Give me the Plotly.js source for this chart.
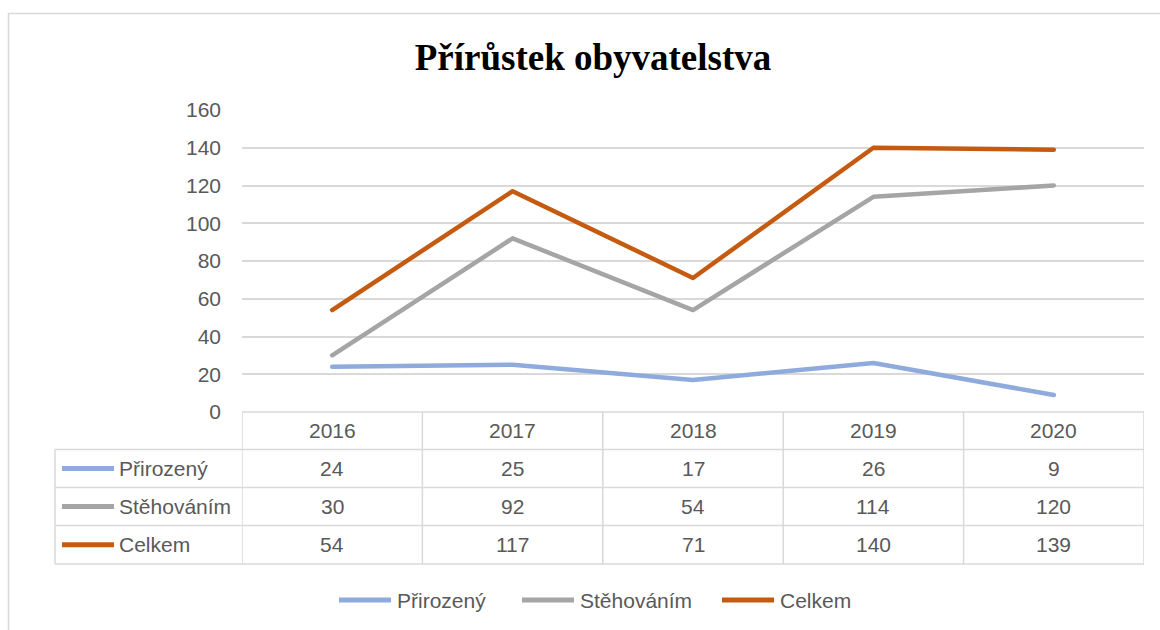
<!DOCTYPE html>
<html>
<head>
<meta charset="utf-8">
<script src="https://cdn.plot.ly/plotly-3.0.1.min.js"></script>
<style>
html,body{margin:0;padding:0;background:#fff;}
#chart{width:1160px;height:630px;}
#chart .scatterlayer .js-line{stroke-linecap:round !important;stroke-linejoin:round !important;}
</style>
</head>
<body>
<div id="chart"></div>
<script>
const years = ["2016", "2017", "2018", "2019", "2020"];
const seriesNames = ["Přirozený", "Stěhováním", "Celkem"];
const prirozeny = [24, 25, 17, 26, 9];
const stehovanim = [30, 92, 54, 114, 120];
const celkem = [54, 117, 71, 140, 139];
const yTicks = [0, 20, 40, 60, 80, 100, 120, 140, 160];
const colors = ["#8faadc", "#a5a5a5", "#c55a11"];
const seriesValues = [prirozeny, stehovanim, celkem];

// layout geometry (pixels)
const W = 1160, H = 630;
const L = 242, R = 1144, T = 110, B = 412;
const px2x = p => (p - L) / (R - L);
const py2y = p => (B - p) / (B - T);
const rowEdges = [412, 449.5, 487.5, 525.5, 564];
const tableLeft = 55;
const legendKeyX = [339, 522, 722];
const legendY = 600;
const font = "Liberation Sans, Arial, sans-serif";
const textColor = "#595959";
const gridColor = "#d9d9d9";

const traces = seriesValues.map((vals, i) => ({
  type: "scatter",
  mode: "lines",
  name: seriesNames[i],
  x: years,
  y: vals,
  line: {color: colors[i], width: 4.5},
  hoverinfo: "x+y+name"
}));

const shapes = [];
const annotations = [];

// outer chart frame
shapes.push({type: "rect", xref: "paper", yref: "paper",
  x0: px2x(8.5), x1: px2x(1175), y0: py2y(13.5), y1: py2y(645),
  line: {color: gridColor, width: 1.5}, fillcolor: "rgba(0,0,0,0)"});

// data table horizontal lines
rowEdges.forEach((e, i) => {
  shapes.push({type: "line", xref: "paper", yref: "paper",
    x0: px2x(i === 0 ? L : tableLeft), x1: 1, y0: py2y(e), y1: py2y(e),
    line: {color: gridColor, width: 1.5}});
});
// vertical lines at category boundaries
for (let k = 0; k <= years.length; k++) {
  shapes.push({type: "line", xref: "x", yref: "paper",
    x0: k - 0.5, x1: k - 0.5, y0: py2y(rowEdges[0]), y1: py2y(rowEdges[rowEdges.length - 1]),
    line: {color: gridColor, width: 1.5}});
}
// left column border
shapes.push({type: "line", xref: "paper", yref: "paper",
  x0: px2x(tableLeft), x1: px2x(tableLeft), y0: py2y(rowEdges[1]), y1: py2y(rowEdges[rowEdges.length - 1]),
  line: {color: gridColor, width: 1.5}});

// header row
years.forEach((yr, k) => {
  annotations.push({xref: "x", yref: "paper", x: k, y: py2y((rowEdges[0] + rowEdges[1]) / 2),
    text: yr, showarrow: false, xanchor: "center", yanchor: "middle",
    font: {family: font, size: 21, color: textColor}});
});
// series rows
seriesValues.forEach((vals, i) => {
  const yc = py2y((rowEdges[i + 1] + rowEdges[i + 2]) / 2);
  shapes.push({type: "line", xref: "paper", yref: "paper",
    x0: px2x(62), x1: px2x(114), y0: yc, y1: yc,
    line: {color: colors[i], width: 5}});
  annotations.push({xref: "paper", yref: "paper", x: px2x(117), y: yc,
    text: seriesNames[i], showarrow: false, xanchor: "left", yanchor: "middle",
    font: {family: font, size: 21, color: textColor}});
  vals.forEach((v, k) => {
    annotations.push({xref: "x", yref: "paper", x: k, y: yc,
      text: String(v), showarrow: false, xanchor: "center", yanchor: "middle",
      font: {family: font, size: 21, color: textColor}});
  });
});

// bottom legend
seriesNames.forEach((name, i) => {
  const yc = py2y(legendY);
  shapes.push({type: "line", xref: "paper", yref: "paper",
    x0: px2x(legendKeyX[i]), x1: px2x(legendKeyX[i] + 52), y0: yc, y1: yc,
    line: {color: colors[i], width: 5}});
  annotations.push({xref: "paper", yref: "paper", x: px2x(legendKeyX[i] + 56), y: yc,
    text: name, showarrow: false, xanchor: "left", yanchor: "middle",
    font: {family: font, size: 21, color: textColor}});
});

const layout = {
  width: W, height: H,
  margin: {l: L, r: W - R, t: T, b: H - B, pad: 0},
  paper_bgcolor: "#ffffff",
  plot_bgcolor: "#ffffff",
  title: {
    text: "<b>Přírůstek obyvatelstva</b>",
    font: {family: "Liberation Serif, Times New Roman, serif", size: 37, color: "#000000"},
    x: 593 / W, xanchor: "center",
    y: 1 - 57 / H, yanchor: "middle"
  },
  xaxis: {
    type: "category",
    range: [-0.5, years.length - 0.5],
    showticklabels: false, showgrid: false, zeroline: false, showline: false, ticks: "",
    fixedrange: true
  },
  yaxis: {
    range: [0, 160],
    tickvals: yTicks,
    ticktext: yTicks.map(String),
    showgrid: true, gridcolor: gridColor, gridwidth: 1.5,
    zeroline: false, showline: false, ticks: "",
    ticklabelstandoff: 20,
    tickfont: {family: font, size: 21, color: textColor},
    fixedrange: true
  },
  showlegend: false,
  shapes: shapes,
  annotations: annotations
};

Plotly.newPlot("chart", traces, layout, {displayModeBar: false});
</script>
</body>
</html>
